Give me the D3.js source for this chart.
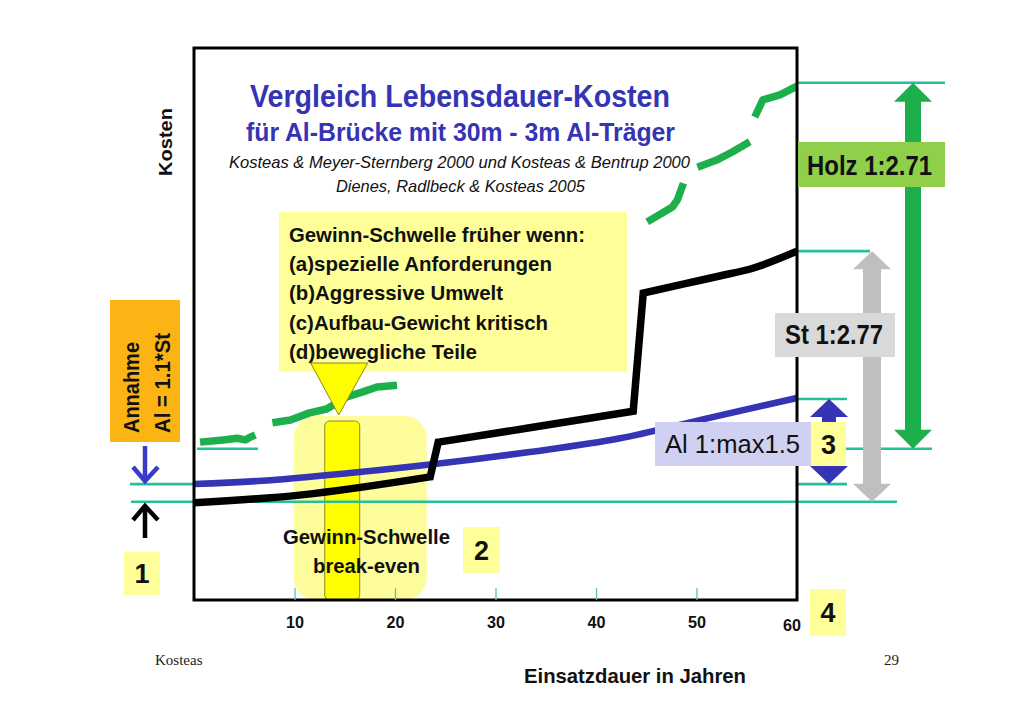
<!DOCTYPE html>
<html><head><meta charset="utf-8">
<script src="https://cdn.jsdelivr.net/npm/d3@7"></script>
<style>body{margin:0;background:#fff} svg{display:block}</style>
</head><body>
<svg id="chart" width="1024" height="703"></svg>
<script>
// ---------- data ----------
const xTickValues = [10, 20, 30, 40, 50];
const xEndLabel = "60";

// Steel (St) life-cycle cost
const stYears = [0, 10.5, 23.5, 24.3, 33.4, 43.7, 44.7, 49.1, 52.3, 55.6, 60];
const stCost  = [17.6, 19.0, 22.3, 28.6, 31.2, 34.2, 55.6, 57.4, 58.7, 60.1, 63.2];
const stJumpAfter = [2, 5]; // indices after which a repair step (jump) happens

// Aluminium (Al) life-cycle cost
const alYears = [0, 7.6, 15.5, 27.5, 33.4, 42.4, 50.3, 60];
const alCost  = [21.0, 21.7, 23.0, 25.4, 26.8, 29.3, 32.6, 36.6];

// Timber (Holz) life-cycle cost, null = gap of the dashed stroke
const holzYears = [0.6, 2.9, 4.3, 5.1, 5.6, 6.1, 7.0, 7.8, 9.6, 11.5, 13.2, 15.2, 16.8, 18.2, 20.2, 30,
                   45.1, 47.6, 48.1, 48.7, 49.4, 50.1, 52.0, 53.6, 55.3, 55.5, 55.8, 56.6, 58.3, 60];
const holzCost  = [28.6, 29.0, 29.3, 29.0, 29.5, 29.9, null, 32.1, 32.6, 33.9, 34.6, 36.8, 37.7, 38.6, 38.9, null,
                   68.5, 71.2, 72.5, 75.5, null, 78.4, 79.7, 81.2, 83.0, null, 87.5, 90.6, 91.5, 93.1];

// reference levels (start / end costs)
const stStart = 17.8, alStart = 21.0, holzStart = 27.4;
const stEnd = 63.2, alEnd = 36.4, holzEnd = 93.7;
const breakEvenYear = 14.5;

const titleLines = ["Vergleich Lebensdauer-Kosten", "für Al-Brücke mit 30m - 3m Al-Träger"];
const sourceLines = ["Kosteas & Meyer-Sternberg 2000 und  Kosteas & Bentrup 2000", "Dienes, Radlbeck & Kosteas 2005"];
const conditionLines = ["Gewinn-Schwelle früher wenn:", "(a)spezielle Anforderungen", "(b)Aggressive Umwelt",
                        "(c)Aufbau-Gewicht kritisch", "(d)bewegliche Teile"];
const ratioLabels = ["Holz 1:2.71", "St 1:2.77", "Al 1:max1.5"];
const breakEvenLabels = ["Gewinn-Schwelle", "break-even"];
const assumptionLabels = ["Annahme", "Al = 1.1*St"];
const xTitle = "Einsatzdauer in Jahren";
const yTitle = "Kosten";

// ---------- setup ----------
const SANS = "'Liberation Sans', Arial, sans-serif";
const SERIF = "'Liberation Serif', 'Times New Roman', serif";
const TEAL = "#25bf9a", BLUE = "#3434b4", GREEN = "#1caf4c", LYEL = "#ffff99";

const svg = d3.select("#chart");
const x = d3.scaleLinear().domain([0, 60]).range([194, 797]);
const y = d3.scaleLinear().domain([0, 100]).range([600, 48]);

function text(g, str, px, py, o = {}) {
  const t = g.append("text").attr("x", px).attr("y", py).text(str)
    .attr("font-family", o.family || SANS)
    .attr("font-size", o.size || 16)
    .attr("font-weight", o.weight || "normal")
    .attr("font-style", o.style || "normal")
    .attr("fill", o.fill || "#111")
    .attr("text-anchor", o.anchor || "start");
  if (o.len) t.attr("textLength", o.len).attr("lengthAdjust", "spacingAndGlyphs");
  if (o.transform) t.attr("transform", o.transform);
  return t;
}

svg.append("rect").attr("width", 1024).attr("height", 703).attr("fill", "#fff");

// break-even highlight
svg.append("rect").attr("x", x(breakEvenYear) - 46).attr("y", 416)
  .attr("width", 133).attr("height", 184).attr("rx", 22).attr("fill", "#fdfd9c");
svg.append("rect").attr("x", x(breakEvenYear) - 15).attr("y", 421)
  .attr("width", 35).attr("height", 179).attr("rx", 5)
  .attr("fill", "#ffff00").attr("stroke", "#8c8c20").attr("stroke-width", 1);

// teal reference lines
const teal = svg.append("g").attr("stroke", TEAL).attr("stroke-width", 2.6);
function hline(v, x1, x2) { teal.append("line").attr("x1", x1).attr("x2", x2).attr("y1", y(v)).attr("y2", y(v)); }
hline(stStart, 131, 897);
hline(alStart, 130, 194); hline(alStart, 797, 847);
hline(holzStart, 197, 258); hline(holzStart, 797, 932);
hline(holzEnd, 797, 945);
hline(stEnd, 797, 870);
hline(alEnd, 797, 847);

// data lines
function path(xs, ys, curve) {
  return d3.line().defined((d, i) => ys[i] != null)
    .x((d, i) => x(xs[i])).y((d, i) => y(ys[i])).curve(curve || d3.curveLinear)(xs);
}
// steel: smooth pieces joined by straight repair steps
function steppedPath(xs, ys, breaks) {
  const cuts = [0, ...breaks.map(b => b + 1), xs.length];
  let d = "";
  for (let k = 0; k < cuts.length - 1; k++) {
    const seg = path(xs.slice(cuts[k], cuts[k + 1]), ys.slice(cuts[k], cuts[k + 1]), d3.curveMonotoneX);
    d += k === 0 ? seg : seg.replace(/^M/, "L");
  }
  return d;
}
svg.append("path").attr("d", path(holzYears, holzCost)).attr("fill", "none")
  .attr("stroke", GREEN).attr("stroke-width", 7.5).attr("stroke-linejoin", "round");
svg.append("path").attr("d", path(alYears, alCost, d3.curveMonotoneX))
  .attr("fill", "none").attr("stroke", BLUE).attr("stroke-width", 6.5);
svg.append("path").attr("d", steppedPath(stYears, stCost, stJumpAfter)).attr("fill", "none")
  .attr("stroke", "#000").attr("stroke-width", 7.5).attr("stroke-linejoin", "miter");

// plot frame
svg.append("rect").attr("x", 194).attr("y", 48).attr("width", 603).attr("height", 552)
  .attr("fill", "none").attr("stroke", "#000").attr("stroke-width", 3);

// x axis
const gx = svg.append("g").attr("transform", "translate(0,600)")
  .call(d3.axisBottom(x).tickValues(xTickValues).tickSizeInner(-12).tickSizeOuter(0).tickPadding(16).tickFormat(d3.format("d")));
gx.select(".domain").remove();
gx.selectAll(".tick line").attr("stroke", "#62bdb2").attr("stroke-width", 1.3);
gx.selectAll(".tick text").attr("font-family", SANS).attr("font-size", 17).attr("font-weight", "bold").attr("fill", "#111")
  .attr("textLength", 18).attr("lengthAdjust", "spacingAndGlyphs");
text(svg, xEndLabel, 792, 631, { size: 17, weight: "bold", anchor: "middle", len: 18 });

// titles
text(svg, titleLines[0], 460, 107, { size: 32, weight: "bold", fill: BLUE, anchor: "middle", len: 420 });
text(svg, titleLines[1], 460.5, 141, { size: 26, weight: "bold", fill: BLUE, anchor: "middle", len: 429 });
text(svg, sourceLines[0], 459.5, 168, { size: 17, style: "italic", anchor: "middle", len: 461 });
text(svg, sourceLines[1], 460.5, 192, { size: 17, style: "italic", anchor: "middle", len: 249 });

// condition callout
svg.append("rect").attr("x", 279).attr("y", 212).attr("width", 348).attr("height", 160).attr("fill", LYEL);
const condLens = [296, 263, 214, 259, 188];
conditionLines.forEach((s, i) => text(svg, s, 289, 242 + i * 29.2, { size: 21, weight: "bold", len: condLens[i] }));
svg.append("path")
  .attr("d", d3.line()([[x(breakEvenYear) - 29, 363], [x(breakEvenYear) + 28, 363], [x(breakEvenYear) - 1, 415]]) + "Z")
  .attr("fill", "#ffff00").attr("stroke", "#8a8a10").attr("stroke-width", 1);

// break-even labels
text(svg, breakEvenLabels[0], 366.5, 544, { size: 21, weight: "bold", anchor: "middle", len: 167 });
text(svg, breakEvenLabels[1], 366.5, 573, { size: 21, weight: "bold", anchor: "middle", len: 107 });

// number boxes
function numBox(n, bx, by, w, h) {
  svg.append("rect").attr("x", bx).attr("y", by).attr("width", w).attr("height", h).attr("fill", LYEL);
  text(svg, n, bx + w / 2, by + h / 2 + 9.5, { size: 27, weight: "bold", anchor: "middle" });
}
numBox("1", 124, 552, 36, 43);
numBox("2", 463, 527, 37, 46);
numBox("4", 810, 589, 36, 47);

// right-hand double arrows
function dblArrow(cx, yTop, yBot, shaftHalf, headHalf, headH, fill) {
  const p = [[cx, yTop], [cx + headHalf, yTop + headH], [cx + shaftHalf, yTop + headH],
             [cx + shaftHalf, yBot - headH], [cx + headHalf, yBot - headH], [cx, yBot],
             [cx - headHalf, yBot - headH], [cx - shaftHalf, yBot - headH],
             [cx - shaftHalf, yTop + headH], [cx - headHalf, yTop + headH]];
  svg.append("path").attr("d", d3.line()(p) + "Z").attr("fill", fill);
}
dblArrow(913, y(holzEnd), y(holzStart), 8, 19, 19, GREEN);
dblArrow(872, y(stEnd), y(stStart), 9, 19, 18, "#bfbfbf");
dblArrow(829, y(alEnd), y(alStart), 7, 19, 18, BLUE);

// ratio label boxes
svg.append("rect").attr("x", 798).attr("y", 142).attr("width", 147).attr("height", 45).attr("fill", "#8fcf4a");
text(svg, ratioLabels[0], 807, 175, { size: 27, weight: "bold", len: 125 });
svg.append("rect").attr("x", 775).attr("y", 313).attr("width", 120).attr("height", 44).attr("fill", "#d9d9d9");
text(svg, ratioLabels[1], 785, 344, { size: 27, weight: "bold", len: 98 });
svg.append("rect").attr("x", 655).attr("y", 422).attr("width", 156).attr("height", 44).attr("fill", "#d0d0f2");
text(svg, ratioLabels[2], 665, 453, { size: 25, len: 135 });
numBox("3", 811, 422, 35, 44);

// left assumption box
svg.append("rect").attr("x", 110).attr("y", 300).attr("width", 70).attr("height", 142).attr("fill", "#fbb414");
text(svg, assumptionLabels[0], 0, 0, { size: 22, weight: "bold", len: 91, transform: "translate(139,433) rotate(-90)" });
text(svg, assumptionLabels[1], 0, 0, { size: 22, weight: "bold", len: 100, transform: "translate(170,433) rotate(-90)" });

// small arrows pointing to the start levels
const la = svg.append("g").attr("fill", "none").attr("stroke-width", 4.5).attr("stroke-linejoin", "miter");
la.append("path").attr("d", d3.line()([[145, 446], [145, 481]])).attr("stroke", "#3a3acb");
la.append("path").attr("d", d3.line()([[133, 467], [145, 481], [158, 467]])).attr("stroke", "#3a3acb");
la.append("path").attr("d", d3.line()([[145, 538], [145, 506]])).attr("stroke", "#000");
la.append("path").attr("d", d3.line()([[133, 520], [145, 506], [158, 520]])).attr("stroke", "#000");

// axis titles
text(svg, yTitle, 0, 0, { size: 19, weight: "bold", anchor: "middle", len: 68, transform: "translate(172,142) rotate(-90)" });
text(svg, xTitle, 635, 683, { size: 21, weight: "bold", anchor: "middle", len: 222 });

// footer
text(svg, "Kosteas", 155, 665, { family: SERIF, size: 15, fill: "#222" });
text(svg, "29", 884, 665, { family: SERIF, size: 15, fill: "#222" });
</script>
</body></html>
